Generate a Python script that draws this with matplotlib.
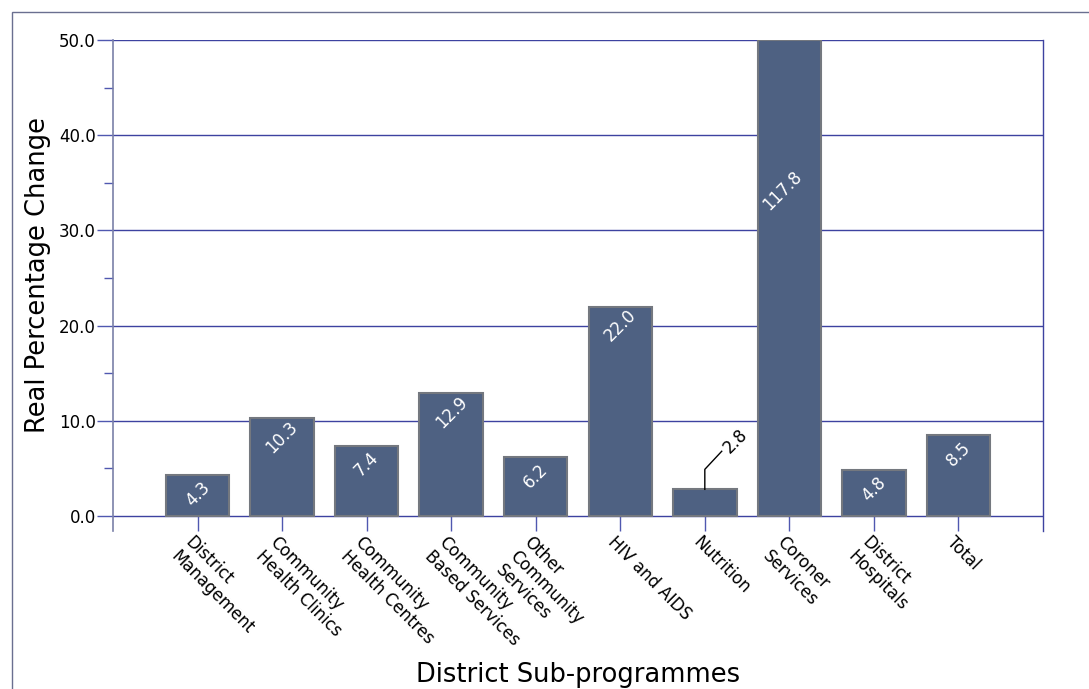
import matplotlib.pyplot as plt
import matplotlib.transforms as transforms
from matplotlib.patches import Rectangle
from matplotlib.ticker import MultipleLocator, FormatStrFormatter

# Data
categories = ['District\nManagement', 'Community\nHealth Clinics', 'Community\nHealth Centres',
              'Community\nBased Services', 'Other\nCommunity\nServices', 'HIV and AIDS',
              'Nutrition', 'Coroner\nServices', 'District\nHospitals', 'Total']
values = [4.3, 10.3, 7.4, 12.9, 6.2, 22.0, 2.8, 117.8, 4.8, 8.5]

ymax = 50.0
bar_color = '#4e6182'
edge_color = '#74787f'
grid_color = '#3d42a0'
spine_color = '#7a80a8'

plt.rcParams['font.family'] = 'DejaVu Sans'

fig = plt.figure(figsize=(10.89, 6.89), dpi=100)
ax = fig.add_axes([113 / 1089, 1 - 531 / 689, 930 / 1089, 491 / 689])

# outer frame
fig.patches.append(Rectangle((12 / 1089, -0.1), 1.2, 1 - 12 / 689 + 0.1, transform=fig.transFigure,
                             fill=False, edgecolor='#6a6f90', linewidth=1.0))

x = list(range(len(values)))
shown = [min(v, ymax) for v in values]
ax.bar(x, shown, width=0.75, color=bar_color, edgecolor=edge_color, linewidth=1.5, zorder=3)

ax.set_xlim(-1, len(values))
ax.set_ylim(-1.576, ymax)

# grid and spines
ax.yaxis.set_major_locator(MultipleLocator(10))
ax.yaxis.set_minor_locator(MultipleLocator(5))
ax.yaxis.set_major_formatter(FormatStrFormatter('%.1f'))
for yv in range(0, 51, 10):
    ax.axhline(yv, color=grid_color, linewidth=1.0, zorder=1)
ax.spines['bottom'].set_visible(False)
ax.spines['top'].set_visible(False)
ax.spines['left'].set_color(spine_color)
ax.spines['right'].set_color(grid_color)
ax.spines['left'].set_linewidth(1.2)
ax.spines['right'].set_linewidth(1.0)

ax.tick_params(axis='y', which='major', length=11.5, width=1.0, color='#5058b0',
               labelsize=12, pad=1)
ax.tick_params(axis='y', which='minor', length=6.5, width=1.0, color='#5058b0')
ax.set_xticks(x)
ax.tick_params(axis='x', which='major', direction='in', length=10.8, width=1.0,
               color='#5058b0', labelbottom=False)

# rotated category labels
offset = transforms.offset_copy(ax.transData, fig=fig, x=-3, y=-17, units='dots')
for xi, lab in zip(x, categories):
    ax.text(xi, 0, lab, transform=offset, rotation=-45, rotation_mode='anchor',
            ha='left', va='top', fontsize=12, linespacing=1.15, multialignment='left')

# value labels
for xi, v, s in zip(x, values, shown):
    if v > ymax:
        ax.text(xi - 0.08, ymax * 0.684, '%.1f' % v, rotation=45, ha='center', va='center',
                color='white', fontsize=12, zorder=4)
    elif v < 3:
        ax.plot([xi, xi, xi + 0.2], [v, v + 2.1, v + 4.0], color='black', linewidth=1.0, zorder=4)
        ax.text(xi + 0.36, v + 5.1, '%.1f' % v, rotation=45, ha='center', va='center',
                color='black', fontsize=12, zorder=4)
    else:
        ax.text(xi, s - 2.0, '%.1f' % v, rotation=45, ha='center', va='center',
                color='white', fontsize=12, zorder=4)

ax.set_ylabel('Real Percentage Change', fontsize=18.5)
ax.yaxis.set_label_coords(-0.067, 0.521)
fig.text(578 / 1089, 1 - 675 / 689, 'District Sub-programmes', ha='center', va='center',
         fontsize=18.5)

fig.savefig('out.png', dpi=100)
